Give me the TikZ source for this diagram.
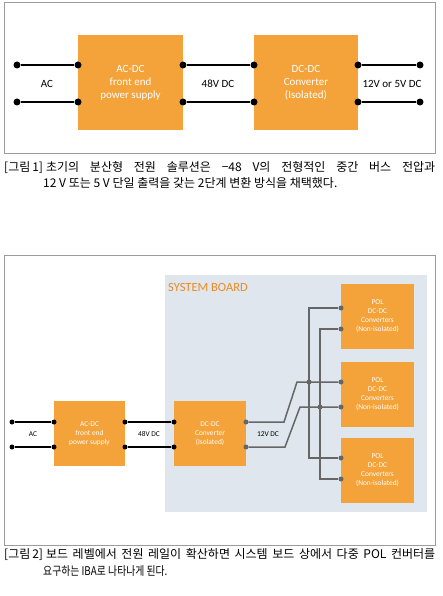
\documentclass[tikz,border=0pt]{standalone}
\usepackage{fontspec}
\setmainfont{Carlito}
\newfontfamily\krfont{Noto Sans CJK KR}
\definecolor{boxorange}{HTML}{F4A23A}
\definecolor{boardgray}{HTML}{DFE6EE}
\definecolor{framegray}{HTML}{9C9C9C}
\definecolor{wiregray}{HTML}{666666}
\definecolor{titleorange}{HTML}{EE8A1E}

\begin{document}
\begin{tikzpicture}[x=1pt,y=-1pt,
  frame/.style={draw=framegray,line width=1pt},
  block/.style={fill=boxorange,text=white,align=center,inner sep=0pt},
  bigtext/.style={font=\fontsize{11}{13}\selectfont},
  smalltext/.style={font=\fontsize{7.4}{9}\selectfont},
  caption/.style={anchor=west,inner sep=0pt,font=\krfont\fontsize{12}{14}\selectfont},
  wire/.style={line width=2.2pt},
  thinwire/.style={line width=1.6pt},
  bus/.style={wiregray,line width=1.5pt},
  dot/.style={circle,fill,inner sep=0pt,minimum size=7pt},
  smalldot/.style={circle,fill,inner sep=0pt,minimum size=5pt},
  greydot/.style={smalldot,fill=wiregray}]
\useasboundingbox (0,0) rectangle (442,596);

% figure 1
\draw[frame] (4,3) rectangle (435,154);
\node[block,bigtext,minimum width=105pt,minimum height=95pt] (acdc) at (130.5,82.5) {AC-DC\\front end\\power supply};
\node[block,bigtext,minimum width=104pt,minimum height=95pt] (dcdc) at (306,82.5) {DC-DC\\Converter\\(Isolated)};
\foreach \n/\x in {a/17,b/78,c/183,d/254,e/358,f/420} {
  \node[dot] (\n1) at (\x,65) {};
  \node[dot] (\n2) at (\x,102) {};
}
\draw[wire] (a1) -- (b1) (c1) -- (d1) (e1) -- (f1);
\draw[wire] (a2) -- (b2) (c2) -- (d2) (e2) -- (f2);
\node[bigtext] (ac) at (47,84) {AC};
\node[bigtext] (mid) at (218,84) {48V DC};
\node[bigtext] (out) at (392,84) {12V or 5V DC};

\node[caption] (capa) at (4,168) {\makebox[431pt][s]{[그림\hspace{2pt}1]\hspace{3pt}초기의 분산형 전원 솔루션은 −48 V의 전형적인 중간 버스 전압과}};
\node[caption] (capb) at (43,183) {12 V 또는 5 V 단일 출력을 갖는 2단계 변환 방식을 채택했다.};

% figure 2
\draw[frame] (4,255) rectangle (435,545);
\fill[boardgray] (165,275) rectangle (427,512);
\node[anchor=west,inner sep=0pt,text=titleorange,font=\fontsize{12.5}{14}\selectfont] (board) at (168,287) {SYSTEM BOARD};

\node[block,smalltext,minimum width=71pt,minimum height=65pt] (acdcs) at (89.5,433.5) {AC-DC\\front end\\power supply};
\node[block,smalltext,minimum width=72pt,minimum height=65pt] (dcdcs) at (210,433.5) {DC-DC\\Converter\\(Isolated)};
\foreach \y [count=\i] in {316.5,394.5,470.5}
  \node[block,smalltext,minimum width=73pt,minimum height=65pt] (pol\i) at (377.5,\y) {POL\\DC-DC\\Converters\\(Non-isolated)};

\foreach \n/\x in {g/12,h/54,k/125,m/174} {
  \node[smalldot] (\n1) at (\x,422) {};
  \node[smalldot] (\n2) at (\x,447) {};
}
\draw[thinwire] (g1) -- (h1) (k1) -- (m1);
\draw[thinwire] (g2) -- (h2) (k2) -- (m2);
\node[smalltext] (acs) at (33,434) {AC};
\node[smalltext] (mids) at (149,434) {48V DC};
\node[smalltext] (outs) at (268,434) {12V DC};

\node[greydot] (o1) at (246,422) {};
\node[greydot] (o2) at (246,447) {};
\node[greydot] (p1a) at (341,308) {};
\node[greydot] (p1b) at (341,329) {};
\node[greydot] (p2a) at (341,382) {};
\node[greydot] (p2b) at (341,407) {};
\node[greydot] (p3a) at (341,458) {};
\node[greydot] (p3b) at (341,479) {};
\node[greydot] (ja) at (309,382) {};
\node[greydot] (jb) at (320,407) {};

\draw[bus] (o1) -- (284,422) -- (297,382) -- (p2a);
\draw[bus] (o2) -- (285,447) -- (300,407) -- (p2b);
\draw[bus] (p1a) -- (309,308) -- (309,458) -- (p3a);
\draw[bus] (p1b) -- (320,329) -- (320,479) -- (p3b);

\node[caption] (capc) at (4,555) {\makebox[431pt][s]{[그림\hspace{2pt}2]\hspace{3pt}보드 레벨에서 전원 레일이 확산하면 시스템 보드 상에서 다중 POL 컨버터를}};
\node[caption] (capd) at (43,571) {\scalebox{0.82}[1]{요구하는 IBA로 나타나게 된다.}};
\end{tikzpicture}
\end{document}
